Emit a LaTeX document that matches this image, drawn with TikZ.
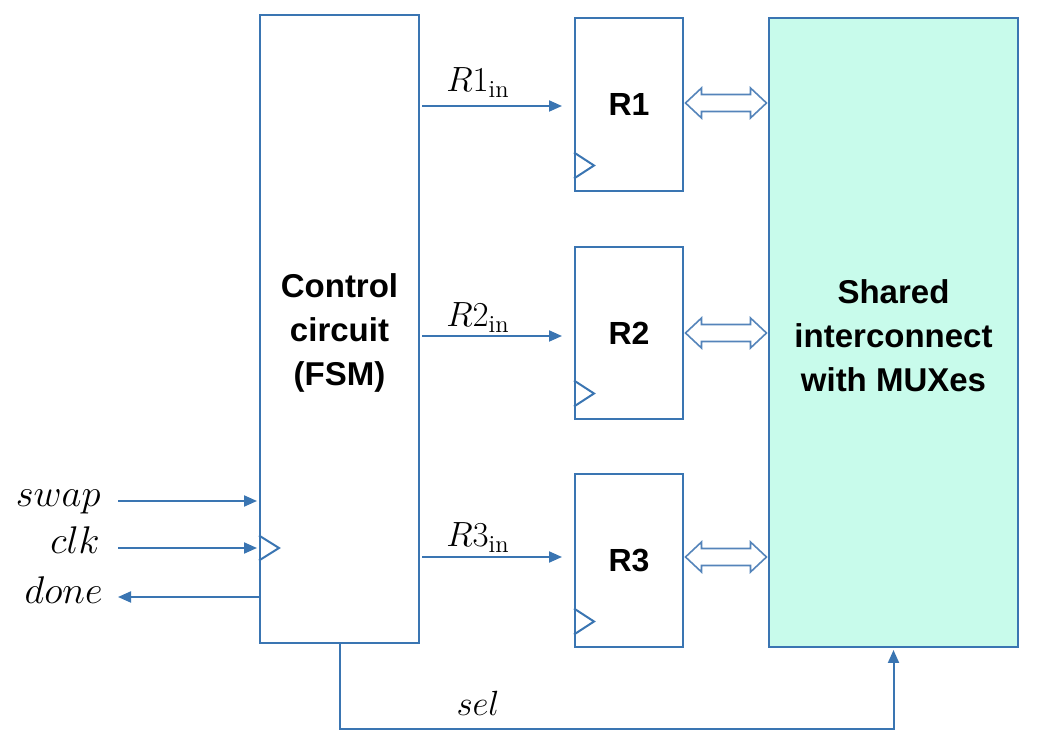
\RequirePackage{fix-cm}
\documentclass[tikz,border=0pt]{standalone}
\usepackage{fontspec}
\newfontfamily\labfont{Liberation Sans}
\usetikzlibrary{arrows.meta,calc}
\definecolor{lblue}{RGB}{58,117,178}
\definecolor{dblue}{RGB}{84,132,186}
\definecolor{mint}{RGB}{200,251,235}
\begin{document}
\begin{tikzpicture}[x=0.5pt,y=-0.5pt,
  box/.style={draw=lblue,line width=1pt,fill=white,inner sep=0pt,font=\labfont\bfseries\fontsize{16}{22}\selectfont,align=center},
  btext/.style={font=\labfont\bfseries\fontsize{16.5}{22}\selectfont,align=center,inner sep=0pt},
  arr/.style={draw=lblue,line width=1pt,-{Triangle[length=6.5pt,width=5.5pt]}},
  ln/.style={draw=lblue,line width=1pt},
  mlab/.style={font=\fontsize{19.3}{22}\selectfont,inner sep=0pt},
  rlab/.style={font=\fontsize{17.5}{21}\selectfont,inner sep=0pt},
  dbl/.pic={\draw[draw=dblue,line width=0.8pt,fill=white,line join=miter] (0,0) -- (16,-15) -- (16,-8.5) -- (65,-8.5) -- (65,-15) -- (81,0) -- (65,15) -- (65,8.5) -- (16,8.5) -- (16,15) -- cycle;}
]
\useasboundingbox (0,0) rectangle (1040,748);
% boxes
\node[box,minimum width=79.5pt,minimum height=314pt] (ctrl) at (339.5,329) {};
\node[btext] (ctrlt) at ($(ctrl.center)+(0,4)$) {Control\\circuit\\(FSM)};
\node[box,minimum width=54pt,minimum height=86.5pt] (r1) at (629,104.5) {R1};
\node[box,minimum width=54pt,minimum height=86pt] (r2) at (629,333) {R2};
\node[box,minimum width=54pt,minimum height=86.5pt] (r3) at (629,560.5) {R3};
\node[box,fill=mint,minimum width=124.5pt,minimum height=314.5pt] (shared) at (893.5,332.5) {};
\node[btext] (sharedt) at ($(shared.center)+(0,3)$) {Shared\\interconnect\\with MUXes};
% clock triangles
\foreach \r in {r1,r2,r3}
  \draw[ln] ($(\r.south west)+(0,-39.5)$) -- ++(20,13) -- ++(-20,13);
% control -> registers
\coordinate (y1) at (0,106);
\coordinate (y2) at (0,336);
\coordinate (y3) at (0,557);
\draw[arr,shorten <=1pt,shorten >=6pt] (ctrl.east |- y1) -- (r1.west |- y1);
\draw[arr,shorten <=1pt,shorten >=6pt] (ctrl.east |- y2) -- (r2.west |- y2);
\draw[arr,shorten <=1pt,shorten >=6pt] (ctrl.east |- y3) -- (r3.west |- y3);
\node[rlab,anchor=base] (l1) at (478,92) {$R1_{\mathrm{in}}$};
\node[rlab,anchor=base] (l2) at (478,327) {$R2_{\mathrm{in}}$};
\node[rlab,anchor=base] (l3) at (478,547) {$R3_{\mathrm{in}}$};
% double arrows
\pic at ($(r1.east)+(1.5,-1.5)$) {dbl};
\pic at ($(r2.east)+(1.5,0)$) {dbl};
\pic at ($(r3.east)+(1.5,-3.5)$) {dbl};
% inputs / outputs
\coordinate (swapin) at (118,501);
\coordinate (clkin) at (118,548);
\coordinate (doneout) at (118,597);
\draw[arr,shorten >=1pt] (swapin) -- (swapin -| ctrl.west);
\draw[arr,shorten >=1pt] (clkin) -- (clkin -| ctrl.west);
\draw[arr] (doneout -| ctrl.west) -- (doneout);
\node[mlab,anchor=base east] (swapl) at (101,507) {$swap$};
\node[mlab,anchor=base east] (clkl) at (100,554) {$clk$};
\node[mlab,anchor=base east] (donel) at (103,604) {$done$};
\draw[ln] ($(clkin -| ctrl.west)+(0,-12.5)$) -- ++(20,12.5) -- ++(-20,12.5);
% sel
\coordinate (selc) at (0,729);
\draw[arr,shorten >=1pt] (ctrl.south) -- (ctrl.south |- selc) -- (shared.south |- selc) -- (shared.south);
\node[rlab,anchor=base] (sell) at (478,716) {$sel$};
\end{tikzpicture}
\end{document}
